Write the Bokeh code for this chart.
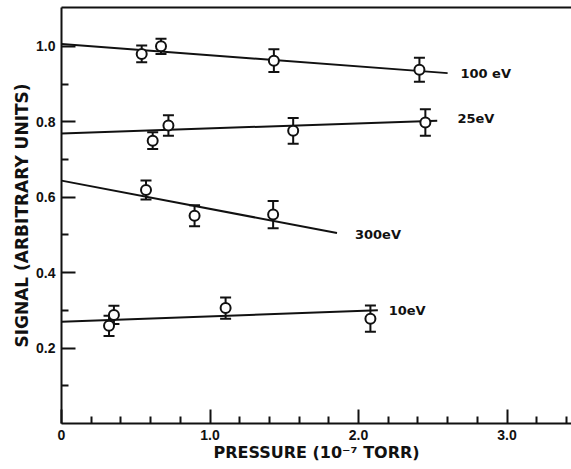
from bokeh.plotting import figure
from bokeh.models import (FixedTicker, PrintfTickFormatter, Range1d, LinearAxis,
                          ColumnDataSource, Whisker, TeeHead)
from bokeh.core.properties import value
from bokeh.embed import file_html
from bokeh.resources import INLINE

# ---- data ----
series_names = ["100 eV", "25eV", "300eV", "10eV"]

p100 = [0.54, 0.67, 1.43, 2.41]
s100 = [0.980, 1.000, 0.962, 0.938]
e100 = [0.022, 0.020, 0.030, 0.032]

p25 = [0.614, 0.72, 1.56, 2.45]
s25 = [0.750, 0.790, 0.776, 0.798]
e25 = [0.022, 0.027, 0.034, 0.035]

p300 = [0.569, 0.896, 1.425]
s300 = [0.619, 0.551, 0.554]
e300 = [0.025, 0.028, 0.036]

p10 = [0.32, 0.353, 1.105, 2.08]
s10 = [0.259, 0.288, 0.306, 0.278]
e10 = [0.027, 0.024, 0.028, 0.035]

# fitted straight lines: [start, end]
fit100_x = [0.0, 2.60]; fit100_y = [1.006, 0.929]
fit25_x = [0.0, 2.53];  fit25_y = [0.769, 0.803]
fit300_x = [0.0, 1.855]; fit300_y = [0.644, 0.505]
fit10_x = [0.0, 2.13];  fit10_y = [0.270, 0.300]

# series label anchors (data units)
label_x = [2.686, 2.666, 1.976, 2.203]
label_y = [0.928, 0.809, 0.500, 0.300]

x_major = [0.0, 1.0, 2.0, 3.0]
x_minor = [0.2, 0.4, 0.6, 0.8, 1.2, 1.4, 1.6, 1.8, 2.2, 2.4, 2.6, 2.8, 3.2, 3.4]
y_major = [0.2, 0.4, 0.6, 0.8, 1.0]
y_minor = [0.1, 0.3, 0.5, 0.7, 0.9]

FONT = "DejaVu Sans"
TFONT = "Liberation Sans"
INK = "#111111"

p = figure(width=571, height=469, output_backend="svg", toolbar_location=None,
           x_range=Range1d(0, 3.434), y_range=Range1d(0, 1.103),
           min_border_left=61, min_border_right=0, min_border_top=7, min_border_bottom=46)
p.outline_line_color = None
p.grid.visible = False
p.background_fill_color = "white"
p.border_fill_color = "white"

# x axis
xa = p.xaxis[0]
xa.ticker = FixedTicker(ticks=x_major, minor_ticks=x_minor)
xa.formatter = PrintfTickFormatter(format="%.1f")
xa.major_label_overrides = {0: "0"}
xa.axis_label = "PRESSURE (10\u207b\u2077 TORR)"
xa.axis_line_width = 2
xa.axis_line_color = INK
xa.major_tick_in = 14; xa.major_tick_out = 0
xa.minor_tick_in = 7; xa.minor_tick_out = 0
xa.major_tick_line_width = 2; xa.minor_tick_line_width = 2
xa.major_tick_line_color = INK; xa.minor_tick_line_color = INK
xa.major_label_text_font = TFONT
xa.major_label_text_font_style = "bold"
xa.major_label_text_font_size = "14px"
xa.major_label_text_color = INK
xa.major_label_standoff = 6
xa.axis_label_text_font = FONT
xa.axis_label_text_font_style = "bold"
xa.axis_label_text_font_size = "16px"
xa.axis_label_text_color = INK
xa.axis_label_standoff = 0

# y axis
ya = p.yaxis[0]
ya.ticker = FixedTicker(ticks=y_major, minor_ticks=y_minor)
ya.formatter = PrintfTickFormatter(format="%.1f")
ya.axis_label = "SIGNAL (ARBITRARY UNITS)"
ya.axis_line_width = 2
ya.axis_line_color = INK
ya.major_tick_in = 14; ya.major_tick_out = 0
ya.minor_tick_in = 7; ya.minor_tick_out = 0
ya.major_tick_line_width = 2; ya.minor_tick_line_width = 2
ya.major_tick_line_color = INK; ya.minor_tick_line_color = INK
ya.major_label_text_font = TFONT
ya.major_label_text_font_style = "bold"
ya.major_label_text_font_size = "14px"
ya.major_label_text_color = INK
ya.major_label_standoff = 6
ya.major_label_orientation = "horizontal"
ya.axis_label_text_font = FONT
ya.axis_label_text_font_style = "bold"
ya.axis_label_text_font_size = "17px"
ya.axis_label_text_color = INK
ya.axis_label_standoff = 1

# top frame line
top = LinearAxis(ticker=FixedTicker(ticks=[]), axis_line_width=2, axis_line_color=INK,
                 major_tick_out=0, major_tick_in=0, minor_tick_out=0, minor_tick_in=0,
                 major_label_standoff=0, major_label_text_font_size="0px")
p.add_layout(top, "above")

series = [
    (p100, s100, e100, fit100_x, fit100_y),
    (p25, s25, e25, fit25_x, fit25_y),
    (p300, s300, e300, fit300_x, fit300_y),
    (p10, s10, e10, fit10_x, fit10_y),
]

for (px, sy, er, fx, fy) in series:
    p.line(fx, fy, line_color=INK, line_width=2)
    src = ColumnDataSource(dict(x=px, y=sy,
                                lo=[v - e for v, e in zip(sy, er)],
                                hi=[v + e for v, e in zip(sy, er)]))
    w = Whisker(source=src, base="x", upper="hi", lower="lo",
                line_color=INK, line_width=2,
                upper_head=TeeHead(size=11, line_color=INK, line_width=2),
                lower_head=TeeHead(size=11, line_color=INK, line_width=2))
    p.add_layout(w)
    p.scatter("x", "y", source=src, marker="circle", size=10,
              fill_color="white", line_color=INK, line_width=2)

p.text(x=label_x, y=label_y, text=series_names, text_font=value(FONT),
       text_font_style="bold", text_font_size="13px", text_color=INK,
       text_align="left", text_baseline="middle")

open("out.html", "w").write(file_html(p, INLINE))
